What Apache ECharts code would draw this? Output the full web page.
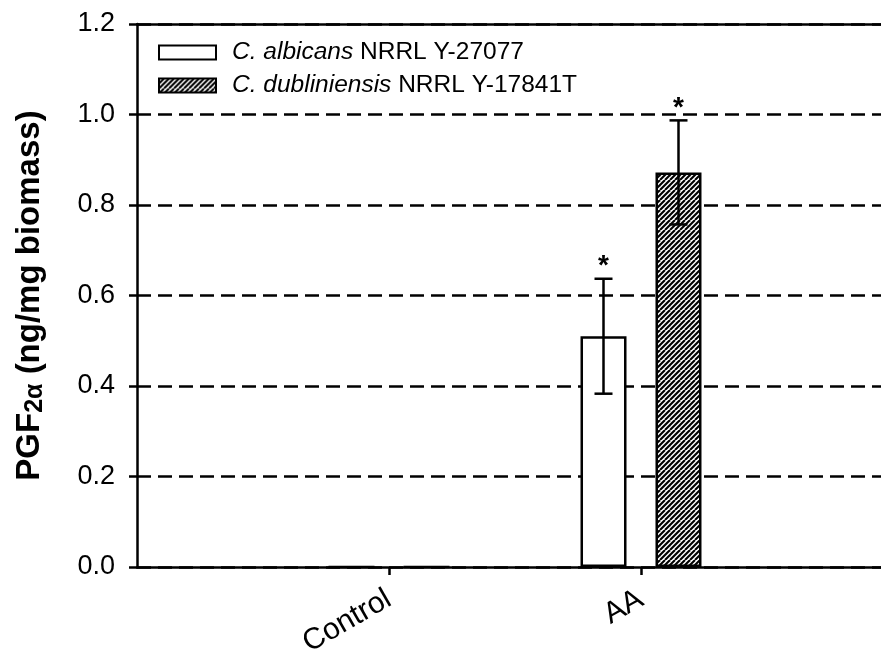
<!DOCTYPE html>
<html>
<head>
<meta charset="utf-8">
<script src="https://cdn.jsdelivr.net/npm/echarts@6/dist/echarts.min.js"></script>
<style>
  html, body { margin: 0; padding: 0; background: #fff; overflow: hidden; }
  #chart { width: 881px; height: 649px; overflow: hidden; }
</style>
</head>
<body>
<div id="chart"></div>
<script>
// Category slots: empty slots at both ends give the axis its side margins.
const categories = ['', 'Control', 'AA', ''];

// PGF2α (ng/mg biomass), mean and standard deviation per strain
const albicansName = 'C. albicans NRRL Y-27077';
const albicansMean = [null, 0, 0.51, null];
const albicansSD   = [null, 0, 0.127, null];
const albicansSig  = [false, false, true, false];

const dublinName = 'C. dubliniensis NRRL Y-17841T';
const dublinMean = [null, 0, 0.872, null];
const dublinSD   = [null, 0, 0.115, null];
const dublinSig  = [false, false, true, false];

// Y axis ticks
const yMin = 0, yMax = 1.2, yStep = 0.2;

const FONT = '"Liberation Sans", Arial, sans-serif';
const BAR_WIDTH = 46;
const BAR_GAP = 29;
const HALF_SPACING = (BAR_WIDTH + BAR_GAP) / 2;

// Diagonal hatch fill
function hatchPattern() {
  const n = 10;
  const c = document.createElement('canvas');
  c.width = n; c.height = n;
  const g = c.getContext('2d');
  g.fillStyle = '#fff';
  g.fillRect(0, 0, n, n);
  g.strokeStyle = '#000';
  g.lineWidth = 2.1;
  for (let o = -n; o <= n; o += n / 2) {
    g.beginPath();
    g.moveTo(o, n);
    g.lineTo(o + n, 0);
    g.stroke();
  }
  return c;
}

function errorRows(mean, sd, sig) {
  const rows = [];
  categories.forEach((c, i) => {
    if (mean[i] != null && sd[i]) rows.push([i, mean[i], sd[i], sig[i] ? 1 : 0]);
  });
  return rows;
}

function errorSeries(mean, sd, sig, offset) {
  return {
    type: 'custom',
    xAxisIndex: 0,
    yAxisIndex: 0,
    z: 5,
    silent: true,
    data: errorRows(mean, sd, sig),
    renderItem(params, api) {
      const i = api.value(0), m = api.value(1), s = api.value(2), star = api.value(3);
      const hi = api.coord([i, m + s]);
      const lo = api.coord([i, m - s]);
      const x = hi[0] + offset;
      const cap = 9;
      const ls = { stroke: '#000', lineWidth: 2.5 };
      const children = [
        { type: 'line', shape: { x1: x, y1: hi[1], x2: x, y2: lo[1] }, style: ls },
        { type: 'line', shape: { x1: x - cap, y1: hi[1], x2: x + cap, y2: hi[1] }, style: ls },
        { type: 'line', shape: { x1: x - cap, y1: lo[1], x2: x + cap, y2: lo[1] }, style: ls }
      ];
      if (star) {
        children.push({
          type: 'text',
          style: {
            text: '*', x: x, y: hi[1] + 2,
            align: 'center', verticalAlign: 'bottom',
            font: 'bold 28px ' + FONT, fill: '#000'
          }
        });
      }
      return { type: 'group', children };
    }
  };
}

const chart = echarts.init(document.getElementById('chart'), null, { renderer: 'canvas', width: 881, height: 649 });

const axisLineStyle = { color: '#000', width: 2.5 };

chart.setOption({
  animation: false,
  backgroundColor: '#fff',
  textStyle: { fontFamily: FONT, color: '#000' },
  grid: { left: 137, top: 24, right: -12, bottom: 82, containLabel: false, outerBoundsMode: 'none' },
  legend: {
    orient: 'vertical',
    left: 153,
    top: 35,
    itemWidth: 57,
    itemHeight: 14,
    itemGap: 8,
    icon: 'rect',
    data: [albicansName, dublinName],
    formatter(name) {
      const p = name.split(' ');
      return '{i|' + p.slice(0, 2).join(' ') + '} ' + p.slice(2).join(' ');
    },
    textStyle: {
      fontFamily: FONT, fontSize: 24.5, color: '#000', padding: [0, 0, 0, 11],
      rich: { i: { fontFamily: FONT, fontSize: 24.5, fontStyle: 'italic', color: '#000' } }
    }
  },
  xAxis: [
    {
      type: 'category',
      data: categories,
      boundaryGap: false,
      axisLine: { lineStyle: axisLineStyle },
      axisTick: {
        interval: (idx, val) => val !== '',
        length: 8,
        lineStyle: axisLineStyle
      },
      axisLabel: {
        interval: 0,
        rotate: 30,
        margin: 30,
        fontSize: 30,
        fontFamily: FONT,
        color: '#000'
      },
      splitLine: { show: false }
    },
    {
      type: 'category',
      data: categories,
      boundaryGap: false,
      position: 'top',
      axisLine: { lineStyle: axisLineStyle },
      axisTick: { show: false },
      axisLabel: { show: false },
      splitLine: { show: false }
    }
  ],
  yAxis: {
    type: 'value',
    min: yMin,
    max: yMax,
    interval: yStep,
    name: 'PGF{sub|2α} (ng/mg biomass)',
    nameLocation: 'middle',
    nameGap: 89,
    nameTextStyle: {
      fontFamily: FONT, fontSize: 33, fontWeight: 'bold', color: '#000',
      rich: {
        sub: { fontFamily: FONT, fontSize: 25, fontWeight: 'bold', color: '#000', verticalAlign: 'bottom', padding: [12, 0, 0, 0] }
      }
    },
    axisLine: { show: true, lineStyle: axisLineStyle },
    axisTick: { show: true, length: 8, lineStyle: axisLineStyle },
    axisLabel: {
      margin: 22,
      fontSize: 27,
      fontFamily: FONT,
      color: '#000',
      formatter: v => v.toFixed(1)
    },
    splitLine: {
      show: true,
      lineStyle: { color: '#000', width: 2.5, type: [14, 7] }
    }
  },
  series: [
    {
      name: albicansName,
      type: 'bar',
      data: albicansMean,
      barWidth: BAR_WIDTH,
      barGap: (BAR_GAP / BAR_WIDTH * 100).toFixed(1) + '%',
      itemStyle: { color: '#fff', borderColor: '#000', borderWidth: 2.5 },
      z: 3
    },
    {
      name: dublinName,
      type: 'bar',
      data: dublinMean,
      barWidth: BAR_WIDTH,
      itemStyle: {
        color: { image: hatchPattern(), repeat: 'repeat' },
        borderColor: '#000',
        borderWidth: 2.5
      },
      z: 3
    },
    errorSeries(albicansMean, albicansSD, albicansSig, -HALF_SPACING),
    errorSeries(dublinMean, dublinSD, dublinSig, HALF_SPACING)
  ]
});
</script>
</body>
</html>
